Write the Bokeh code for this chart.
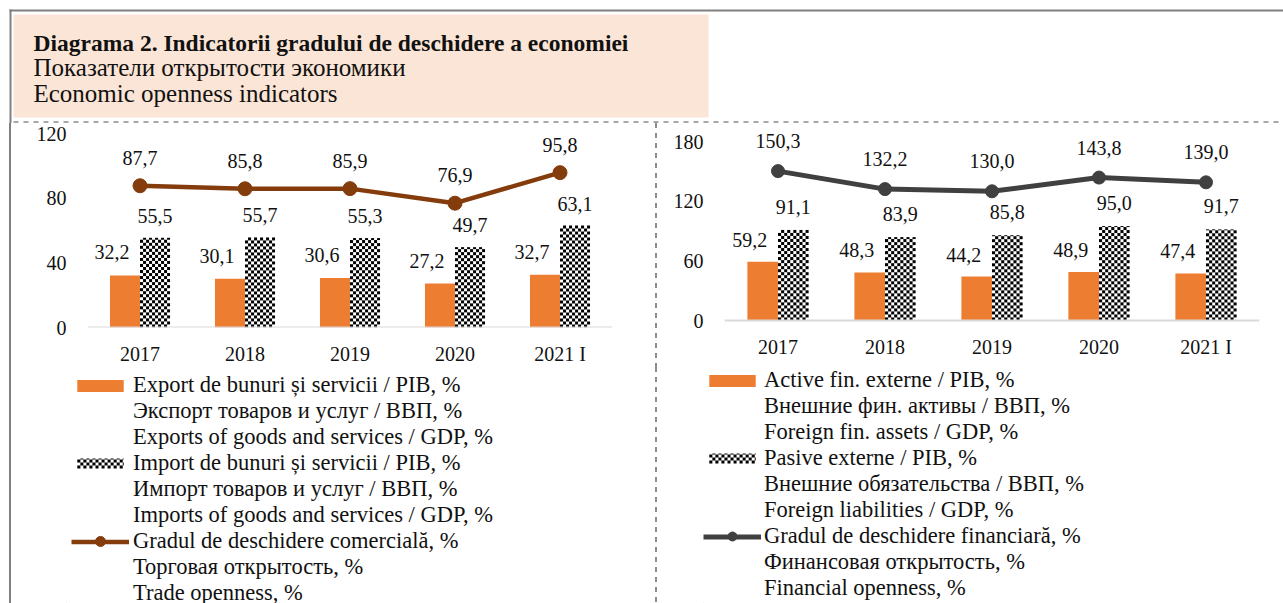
import numpy as np
from bokeh.plotting import figure
from bokeh.layouts import column, row
from bokeh.models import (ColumnDataSource, Range1d, FactorRange, Legend, LegendItem,
                          FixedTicker, Span, Div)
from bokeh.transform import dodge
from bokeh.core.properties import value
from bokeh.embed import file_html
from bokeh.resources import INLINE

# ---------------- data ----------------
years = ["2017", "2018", "2019", "2020", "2021 I"]
exports_gdp = [32.2, 30.1, 30.6, 27.2, 32.7]
imports_gdp = [55.5, 55.7, 55.3, 49.7, 63.1]
trade_openness = [87.7, 85.8, 85.9, 76.9, 95.8]
assets_gdp = [59.2, 48.3, 44.2, 48.9, 47.4]
liabilities_gdp = [91.1, 83.9, 85.8, 95.0, 91.7]
financial_openness = [150.3, 132.2, 130.0, 143.8, 139.0]
left_ticks = [0, 40, 80, 120]
right_ticks = [0, 60, 120, 180]

title_lines = ["Diagrama 2. Indicatorii gradului de deschidere a economiei",
               "Показатели открытости экономики",
               "Economic openness indicators"]
left_legend = [["Export de bunuri și servicii / PIB, %", "Экспорт товаров и услуг / ВВП, %",
                "Exports of goods and services / GDP, %"],
               ["Import de bunuri și servicii / PIB, %", "Импорт товаров и услуг / ВВП, %",
                "Imports of goods and services / GDP, %"],
               ["Gradul de deschidere comercială, %", "Торговая открытость, %", "Trade openness, %"]]
right_legend = [["Active fin. externe / PIB, %", "Внешние фин. активы / ВВП, %",
                 "Foreign fin. assets / GDP, %"],
                ["Pasive externe / PIB, %", "Внешние обязательства / ВВП, %",
                 "Foreign liabilities / GDP, %"],
                ["Gradul de deschidere financiară, %", "Финансовая открытость, %",
                 "Financial openness, %"]]

# ---------------- styles ----------------
FONT = "Liberation Serif"
ORANGE = "#ED7D31"
BROWN = "#843C0C"
DARK = "#404040"
PEACH = "#FBE5D6"
BORDER = "#808080"
DASH = "#8C8C8C"
TXT = "#111111"
HEAD_H = 123
CHART_H = 244
LEG_H = 603 - HEAD_H - CHART_H
PITCH = 26
BW = 0.286
CELL = 3
GW = 58          # legend glyph width
GH = 15          # legend glyph height


def fmt(vals):
    return [f"{v:.1f}".replace(".", ",") for v in vals]


def checker(h_px, w_px):
    """RGBA checkerboard texture (black / white squares of CELL pixels)."""
    rr, cc = np.mgrid[0:max(h_px, 1), 0:max(w_px, 1)]
    black = ((rr // CELL + cc // CELL) % 2) == 0
    img = np.empty(black.shape, dtype=np.uint32)
    view = img.view(dtype=np.uint8).reshape(black.shape + (4,))
    for ch in range(3):
        view[..., ch] = np.where(black, 0, 255)
    view[..., 3] = 255
    return img


def px_fig(w, h):
    return figure(width=w, height=h, x_range=Range1d(0, w), y_range=Range1d(h, 0),
                  x_axis_type=None, y_axis_type=None, min_border=0, toolbar_location=None,
                  output_backend="svg", outline_line_color=None)


def solid_strip(h):
    return Div(text="", width=11, height=h, margin=0,
               styles={"background": "linear-gradient(to right, #ffffff 0px, #ffffff 9px, "
                                     f"{BORDER} 9px, {BORDER} 11px)"})


def dashed_strip(h):
    return Div(text="", width=3, height=h, margin=0,
               styles={"background-image": f"linear-gradient(to bottom, {DASH} 0px, {DASH} 5px, "
                                           "transparent 5px, transparent 10px)",
                       "background-size": "2px 10px", "background-repeat": "repeat-y",
                       "background-position": "1px 0px"})


# ---------------- header ----------------
head = px_fig(1283, HEAD_H)
head.quad(left=[9], right=[1283], top=[9], bottom=[11], fill_color=BORDER, line_color=None)
head.quad(left=[9], right=[11], top=[9], bottom=[HEAD_H], fill_color=BORDER, line_color=None)
head.quad(left=[13], right=[708], top=[14], bottom=[117], fill_color=PEACH, line_color=None)
head.segment(x0=[13], y0=[121.5], x1=[1283], y1=[121.5], line_color=DASH, line_width=1.5,
             line_dash="5 5")
head.text(x=[33], y=[42], text=[title_lines[0]], text_font=value(FONT),
          text_font_size=value("23.5px"), text_font_style="bold", text_baseline="middle",
          text_color=TXT)
head.text(x=[33, 33], y=[67, 93], text=title_lines[1:], text_font=value(FONT),
          text_font_size=value("25px"), text_baseline="middle", text_color=TXT)


def make_chart(w, fl, fr, y0, y1, ticks, v1, v2, v3, lcolor, lwidth, msize, xstand,
               off1, off2, off3):
    src = ColumnDataSource(dict(year=years, v1=v1, v2=v2, v3=v3,
                                t1=fmt(v1), t2=fmt(v2), t3=fmt(v3)))
    p = figure(width=w, height=CHART_H, x_range=FactorRange(*years), y_range=Range1d(y0, y1),
               toolbar_location=None, output_backend="svg",
               min_border_left=fl, min_border_right=w - fr, min_border_top=0,
               min_border_bottom=40, outline_line_color=None)
    p.grid.visible = False
    p.add_layout(Span(location=0, dimension="width", line_color="#D9D9D9", line_width=2))
    p.vbar(x=dodge("year", -BW / 2, range=p.x_range), top="v1", width=BW, source=src,
           fill_color=ORANGE, line_color=None)
    # checkered bars: texture image stretched over [centre, centre + BW] x [0, value]
    cat_px = (fr - fl) / len(years)
    ppu = 204 / (y1 - y0)
    imgs = [checker(int(round(v * ppu)), int(round(BW * cat_px))) for v in v2]
    xs = [i + 0.5 for i in range(len(years))]          # synthetic category centres
    p.image_rgba(image=imgs, x=xs, y=[0] * len(v2), dw=[BW] * len(v2), dh=v2)
    p.line(x="year", y="v3", source=src, line_color=lcolor, line_width=lwidth)
    p.scatter(x="year", y="v3", source=src, size=msize, fill_color=lcolor, line_color=lcolor)
    common = dict(source=src, text_font=value(FONT), text_font_size=value("20px"),
                  text_align="center", text_baseline="middle", text_color=TXT)
    p.text(x=dodge("year", -BW / 2, range=p.x_range), y="v1", text="t1",
           x_offset=off1[0], y_offset=off1[1], **common)
    p.text(x=dodge("year", BW / 2, range=p.x_range), y="v2", text="t2",
           x_offset=off2[0], y_offset=off2[1], **common)
    p.text(x="year", y="v3", text="t3", x_offset=off3[0], y_offset=off3[1], **common)

    p.xaxis.axis_line_color = None
    p.xaxis.major_tick_line_color = None
    p.xaxis.major_tick_out = 0
    p.xaxis.minor_tick_line_color = None
    p.xaxis.major_label_text_font = FONT
    p.xaxis.major_label_text_font_size = "20px"
    p.xaxis.major_label_text_color = TXT
    p.xaxis.major_label_standoff = xstand
    p.yaxis.axis_line_color = None
    p.yaxis.major_tick_line_color = None
    p.yaxis.major_tick_out = 0
    p.yaxis.minor_tick_line_color = None
    p.yaxis.minor_tick_out = 0
    p.yaxis.ticker = FixedTicker(ticks=ticks)
    p.yaxis.major_label_text_font = FONT
    p.yaxis.major_label_text_font_size = "20px"
    p.yaxis.major_label_text_color = TXT
    p.yaxis.major_label_standoff = 21
    return p


def make_legend(w, texts, lcolor, lwidth, msize, gx, m, standoff):
    # frame starts at gx - m (canvas px); data coords == canvas px, y measured from bottom
    fl = gx - m
    p = figure(width=w, height=LEG_H, x_range=Range1d(fl, w), y_range=Range1d(0, LEG_H),
               x_axis_type=None, y_axis_type=None, min_border=0, min_border_left=fl,
               toolbar_location=None, output_backend="svg", outline_line_color=None)
    r1 = p.vbar(x=[-100], top=[1], width=1, fill_color=ORANGE, line_color=None)
    r3 = p.line(x=[-100, -99], y=[0, 0], line_color=lcolor, line_width=lwidth)

    def row_y(k):
        return LEG_H - (m + k * PITCH + PITCH / 2)
    inset = 0.1 * GW
    # checker swatch (2nd entry) and marker dot (3rd entry) of the legend
    p.image_rgba(image=[checker(10, int(round(GW - 2 * inset)))], x=[gx + inset],
                 y=[row_y(3) - 5], dw=[GW - 2 * inset], dh=[10])
    p.scatter(x=[gx + GW / 2], y=[row_y(6)], size=msize, fill_color=lcolor, line_color=lcolor)
    rends = [[r1], [], [r3]]
    items = []
    for k in range(3):
        for j in range(3):
            items.append(LegendItem(label=texts[k][j], renderers=rends[k] if j == 0 else []))
    leg = Legend(items=items, location="top_left", padding=0, margin=m,
                 spacing=0, label_height=PITCH, glyph_height=GH, glyph_width=GW,
                 label_standoff=standoff, border_line_color=None, background_fill_alpha=0,
                 label_text_font=FONT, label_text_font_size="22.5px", label_text_color=TXT)
    p.add_layout(leg, "center")
    return p


left = make_chart(643, 76, 601, 0, 126.2, left_ticks, exports_gdp, imports_gdp,
                  trade_openness, BROWN, 4.5, 14, 15, (-13, -23), (0, -22), (0, -28))
right = make_chart(626, 67, 602, -7.04, 198.2, right_ticks, assets_gdp, liabilities_gdp,
                   financial_openness, DARK, 5, 13, 8, (-13, -22), (0, -23), (0, -30))
left_leg = make_legend(643, left_legend, BROWN, 4.5, 10, 60, 5, 4)
right_leg = make_legend(626, right_legend, DARK, 5, 9, 46, 0, 3)

page = column(head,
              row(solid_strip(CHART_H), left, dashed_strip(CHART_H), right),
              row(solid_strip(LEG_H), left_leg, dashed_strip(LEG_H), right_leg))
open("out.html", "w").write(file_html(page, INLINE))
